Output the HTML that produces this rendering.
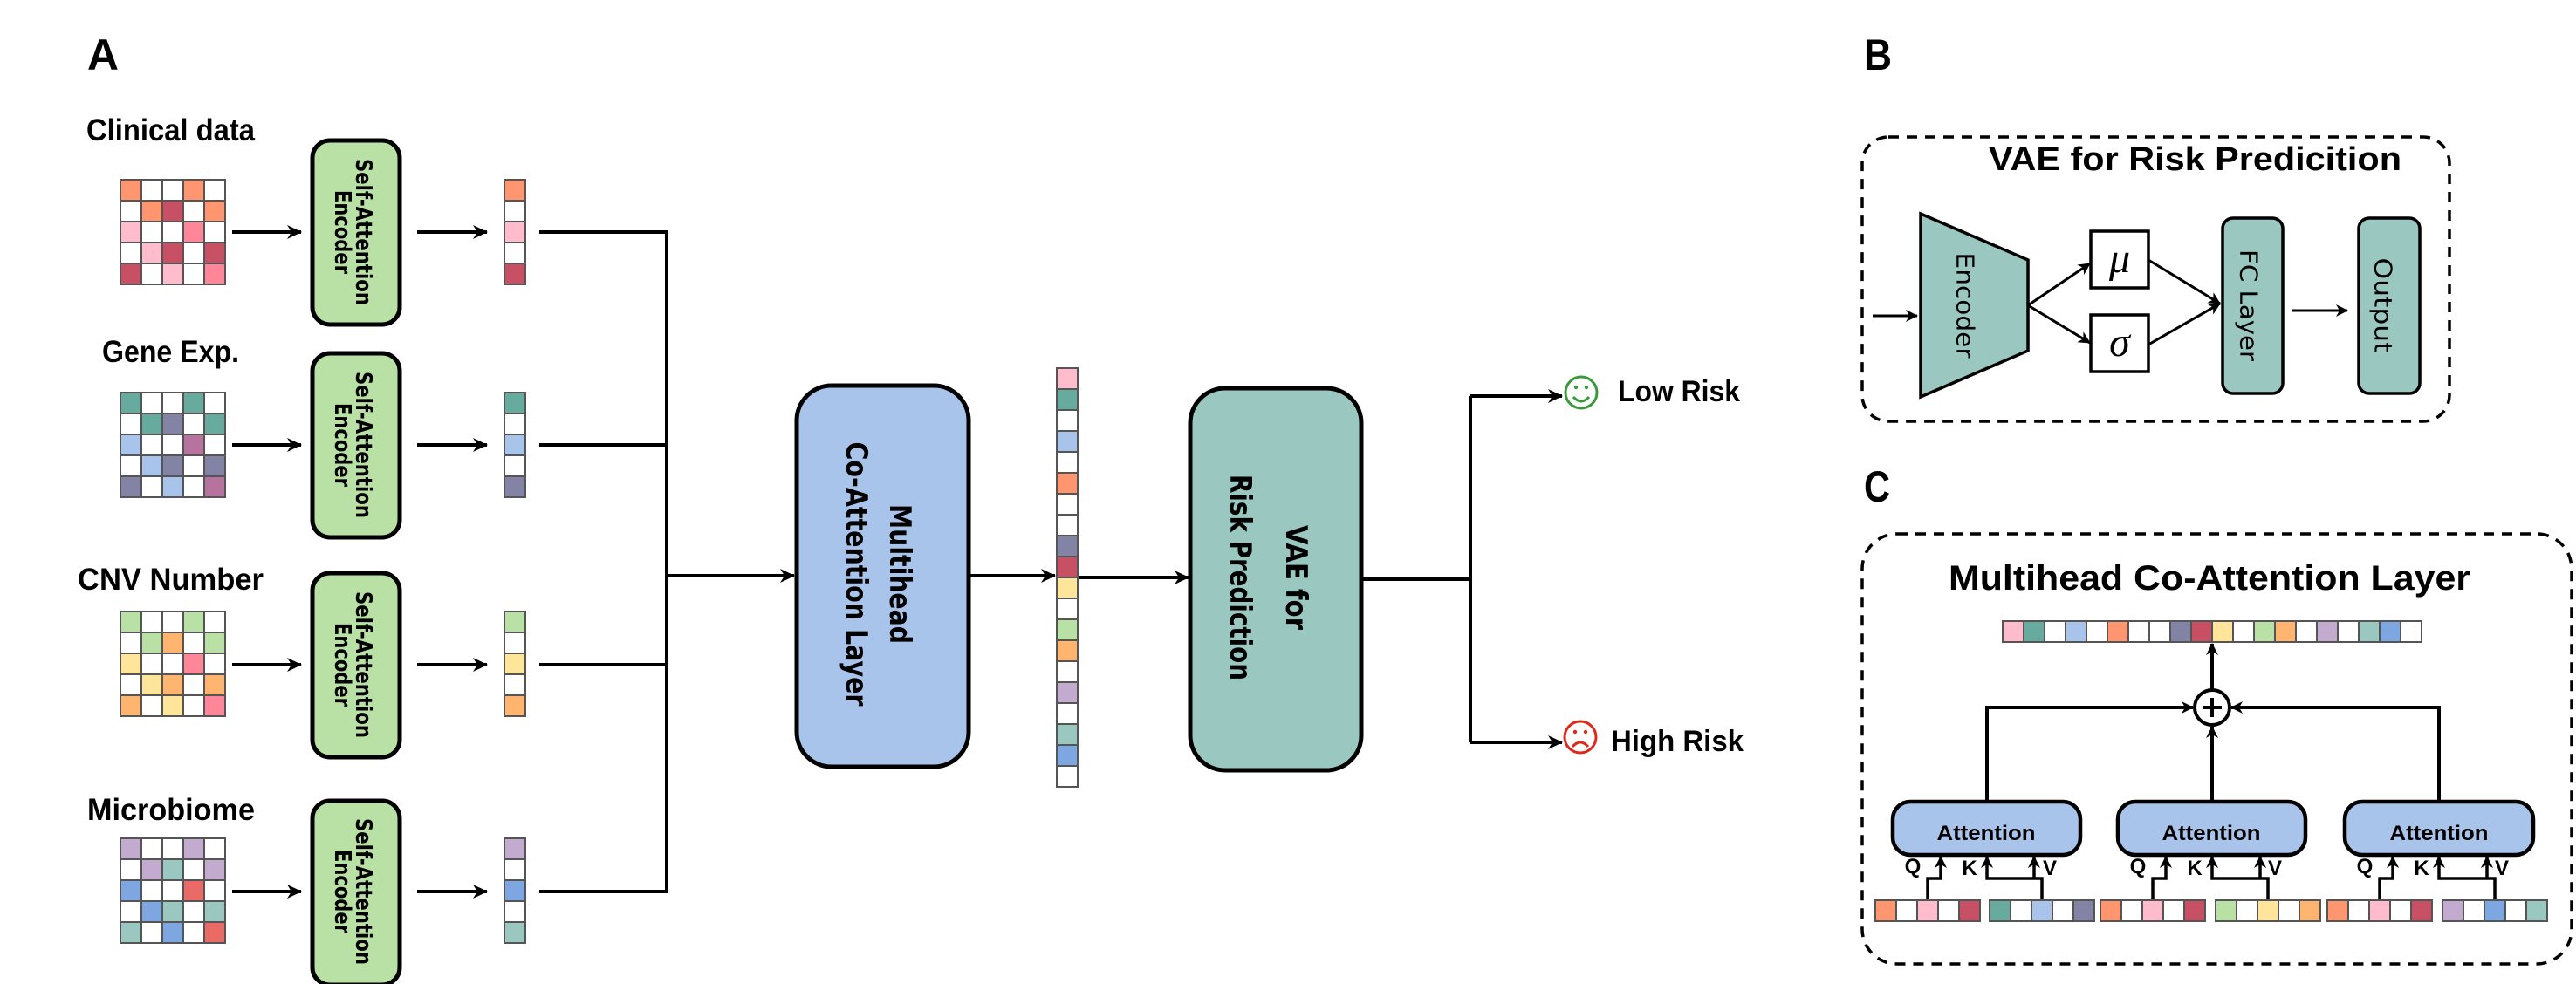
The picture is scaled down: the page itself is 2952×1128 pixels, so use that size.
<!DOCTYPE html>
<html><head><meta charset="utf-8"><style>html,body{margin:0;padding:0;background:#fff}svg{display:block}</style></head>
<body>
<svg width="2952" height="1128" viewBox="0 0 2952 1128" xmlns="http://www.w3.org/2000/svg">
<defs>
<pattern id="gp" width="24" height="24" patternUnits="userSpaceOnUse"><rect x="0" y="0" width="24" height="24" fill="none" stroke="#555" stroke-width="2"/></pattern>
<marker id="ar" markerUnits="userSpaceOnUse" markerWidth="20" markerHeight="16" refX="16" refY="8" orient="auto"><path d="M0,0 L17,8 L0,16 L5,8 z" fill="#000"/></marker>
<marker id="as" markerUnits="userSpaceOnUse" markerWidth="16" markerHeight="14" refX="13" refY="7" orient="auto"><path d="M0,0 L14,7 L0,14 L4,7 z" fill="#000"/></marker>
</defs>
<rect width="2952" height="1128" fill="#fff"/>

<g font-family="Liberation Sans, sans-serif" font-weight="bold" fill="#000">
<text x="100" y="80" font-size="50" textLength="36" lengthAdjust="spacingAndGlyphs">A</text>
<text x="2136" y="80" font-size="50" textLength="32" lengthAdjust="spacingAndGlyphs">B</text>
<text x="2136" y="575" font-size="50" textLength="30" lengthAdjust="spacingAndGlyphs">C</text>
<text x="99" y="161" font-size="35" textLength="193" lengthAdjust="spacingAndGlyphs">Clinical data</text>
<text x="117" y="415" font-size="35" textLength="157" lengthAdjust="spacingAndGlyphs">Gene Exp.</text>
<text x="89" y="676" font-size="35" textLength="213" lengthAdjust="spacingAndGlyphs">CNV Number</text>
<text x="100" y="940" font-size="35" textLength="192" lengthAdjust="spacingAndGlyphs">Microbiome</text>
<text x="1854" y="460" font-size="34" textLength="140" lengthAdjust="spacingAndGlyphs">Low Risk</text>
<text x="1846" y="861" font-size="34" textLength="152" lengthAdjust="spacingAndGlyphs">High Risk</text>
<text x="2279" y="195" font-size="38" textLength="473" lengthAdjust="spacingAndGlyphs">VAE for Risk Predicition</text>
<text x="2233" y="676" font-size="40" textLength="598" lengthAdjust="spacingAndGlyphs">Multihead Co-Attention Layer</text>
</g>

<g transform="translate(138,206)">
<rect width="120" height="120" fill="#fff"/>
<rect x="0" y="0" width="24" height="24" fill="#FF9670"/><rect x="72" y="0" width="24" height="24" fill="#FF9670"/>
<rect x="24" y="24" width="24" height="24" fill="#FF9670"/><rect x="48" y="24" width="24" height="24" fill="#C75064"/><rect x="96" y="24" width="24" height="24" fill="#FF9670"/>
<rect x="0" y="48" width="24" height="24" fill="#FFBCCD"/><rect x="72" y="48" width="24" height="24" fill="#FF8599"/>
<rect x="24" y="72" width="24" height="24" fill="#FFBCCD"/><rect x="48" y="72" width="24" height="24" fill="#C75064"/><rect x="96" y="72" width="24" height="24" fill="#C75064"/>
<rect x="0" y="96" width="24" height="24" fill="#C75064"/><rect x="48" y="96" width="24" height="24" fill="#FFBCCD"/><rect x="96" y="96" width="24" height="24" fill="#FF8599"/>
<rect width="120" height="120" fill="url(#gp)"/><rect width="120" height="120" fill="none" stroke="#555" stroke-width="2"/>
</g>
<g transform="translate(138,450)">
<rect width="120" height="120" fill="#fff"/>
<rect x="0" y="0" width="24" height="24" fill="#67AB9F"/><rect x="72" y="0" width="24" height="24" fill="#67AB9F"/>
<rect x="24" y="24" width="24" height="24" fill="#67AB9F"/><rect x="48" y="24" width="24" height="24" fill="#8383A5"/><rect x="96" y="24" width="24" height="24" fill="#67AB9F"/>
<rect x="0" y="48" width="24" height="24" fill="#A9C4EB"/><rect x="72" y="48" width="24" height="24" fill="#B5739D"/>
<rect x="24" y="72" width="24" height="24" fill="#A9C4EB"/><rect x="48" y="72" width="24" height="24" fill="#8383A5"/><rect x="96" y="72" width="24" height="24" fill="#8383A5"/>
<rect x="0" y="96" width="24" height="24" fill="#8383A5"/><rect x="48" y="96" width="24" height="24" fill="#A9C4EB"/><rect x="96" y="96" width="24" height="24" fill="#B5739D"/>
<rect width="120" height="120" fill="url(#gp)"/><rect width="120" height="120" fill="none" stroke="#555" stroke-width="2"/>
</g>
<g transform="translate(138,701)">
<rect width="120" height="120" fill="#fff"/>
<rect x="0" y="0" width="24" height="24" fill="#B9E0A5"/><rect x="72" y="0" width="24" height="24" fill="#B9E0A5"/>
<rect x="24" y="24" width="24" height="24" fill="#B9E0A5"/><rect x="48" y="24" width="24" height="24" fill="#FFB570"/><rect x="96" y="24" width="24" height="24" fill="#B9E0A5"/>
<rect x="0" y="48" width="24" height="24" fill="#FFE599"/><rect x="72" y="48" width="24" height="24" fill="#FF8599"/>
<rect x="24" y="72" width="24" height="24" fill="#FFE599"/><rect x="48" y="72" width="24" height="24" fill="#FFB570"/><rect x="96" y="72" width="24" height="24" fill="#FFB570"/>
<rect x="0" y="96" width="24" height="24" fill="#FFB570"/><rect x="48" y="96" width="24" height="24" fill="#FFE599"/><rect x="96" y="96" width="24" height="24" fill="#FF8599"/>
<rect width="120" height="120" fill="url(#gp)"/><rect width="120" height="120" fill="none" stroke="#555" stroke-width="2"/>
</g>
<g transform="translate(138,961)">
<rect width="120" height="120" fill="#fff"/>
<rect x="0" y="0" width="24" height="24" fill="#C3ABD0"/><rect x="72" y="0" width="24" height="24" fill="#C3ABD0"/>
<rect x="24" y="24" width="24" height="24" fill="#C3ABD0"/><rect x="48" y="24" width="24" height="24" fill="#9AC7BF"/><rect x="96" y="24" width="24" height="24" fill="#C3ABD0"/>
<rect x="0" y="48" width="24" height="24" fill="#7EA6E0"/><rect x="72" y="48" width="24" height="24" fill="#EA6B66"/>
<rect x="24" y="72" width="24" height="24" fill="#7EA6E0"/><rect x="48" y="72" width="24" height="24" fill="#9AC7BF"/><rect x="96" y="72" width="24" height="24" fill="#9AC7BF"/>
<rect x="0" y="96" width="24" height="24" fill="#9AC7BF"/><rect x="48" y="96" width="24" height="24" fill="#7EA6E0"/><rect x="96" y="96" width="24" height="24" fill="#EA6B66"/>
<rect width="120" height="120" fill="url(#gp)"/><rect width="120" height="120" fill="none" stroke="#555" stroke-width="2"/>
</g>

<g transform="translate(578,206)"><rect width="24" height="120" fill="#fff"/><rect y="0" width="24" height="24" fill="#FF9670"/><rect y="48" width="24" height="24" fill="#FFBCCD"/><rect y="96" width="24" height="24" fill="#C75064"/><rect width="24" height="120" fill="url(#gp)"/><rect width="24" height="120" fill="none" stroke="#555" stroke-width="2"/></g>
<g transform="translate(578,450)"><rect width="24" height="120" fill="#fff"/><rect y="0" width="24" height="24" fill="#67AB9F"/><rect y="48" width="24" height="24" fill="#A9C4EB"/><rect y="96" width="24" height="24" fill="#8383A5"/><rect width="24" height="120" fill="url(#gp)"/><rect width="24" height="120" fill="none" stroke="#555" stroke-width="2"/></g>
<g transform="translate(578,701)"><rect width="24" height="120" fill="#fff"/><rect y="0" width="24" height="24" fill="#B9E0A5"/><rect y="48" width="24" height="24" fill="#FFE599"/><rect y="96" width="24" height="24" fill="#FFB570"/><rect width="24" height="120" fill="url(#gp)"/><rect width="24" height="120" fill="none" stroke="#555" stroke-width="2"/></g>
<g transform="translate(578,961)"><rect width="24" height="120" fill="#fff"/><rect y="0" width="24" height="24" fill="#C3ABD0"/><rect y="48" width="24" height="24" fill="#7EA6E0"/><rect y="96" width="24" height="24" fill="#9AC7BF"/><rect width="24" height="120" fill="url(#gp)"/><rect width="24" height="120" fill="none" stroke="#555" stroke-width="2"/></g>

<g stroke="#000" stroke-width="4" fill="none">
<line x1="266" y1="266" x2="345" y2="266" marker-end="url(#ar)"/>
<line x1="478" y1="266" x2="558" y2="266" marker-end="url(#ar)"/>
<line x1="266" y1="510" x2="345" y2="510" marker-end="url(#ar)"/>
<line x1="478" y1="510" x2="558" y2="510" marker-end="url(#ar)"/>
<line x1="266" y1="762" x2="345" y2="762" marker-end="url(#ar)"/>
<line x1="478" y1="762" x2="558" y2="762" marker-end="url(#ar)"/>
<line x1="266" y1="1022" x2="345" y2="1022" marker-end="url(#ar)"/>
<line x1="478" y1="1022" x2="558" y2="1022" marker-end="url(#ar)"/>
<polyline points="618,266 764,266 764,1022 618,1022"/>
<line x1="618" y1="510" x2="764" y2="510"/>
<line x1="618" y1="762" x2="764" y2="762"/>
<line x1="764" y1="660" x2="910" y2="660" marker-end="url(#ar)"/>
<line x1="1110" y1="660" x2="1209" y2="660" marker-end="url(#ar)"/>
<line x1="1234" y1="662" x2="1362" y2="662" marker-end="url(#ar)"/>
<polyline points="1560,664 1685,664"/>
<polyline points="1685,454 1685,851"/>
<line x1="1685" y1="454" x2="1790" y2="454" marker-end="url(#ar)"/>
<line x1="1685" y1="851" x2="1790" y2="851" marker-end="url(#ar)"/>
</g>

<g fill="#B9E0A5" stroke="#000" stroke-width="5">
<rect x="358" y="161" width="100" height="211" rx="20"/>
<rect x="358" y="405" width="100" height="211" rx="20"/>
<rect x="358" y="657" width="100" height="211" rx="20"/>
<rect x="358" y="918" width="100" height="211" rx="20"/>
</g>
<g font-family="DejaVu Sans, sans-serif" font-weight="bold" font-size="26" text-anchor="middle" dominant-baseline="central" fill="#000">
<text transform="translate(416,266) rotate(90)" textLength="168" lengthAdjust="spacingAndGlyphs">Self-Attention</text>
<text transform="translate(392,266) rotate(90)" textLength="96" lengthAdjust="spacingAndGlyphs">Encoder</text>
<text transform="translate(416,510) rotate(90)" textLength="168" lengthAdjust="spacingAndGlyphs">Self-Attention</text>
<text transform="translate(392,510) rotate(90)" textLength="96" lengthAdjust="spacingAndGlyphs">Encoder</text>
<text transform="translate(416,762) rotate(90)" textLength="168" lengthAdjust="spacingAndGlyphs">Self-Attention</text>
<text transform="translate(392,762) rotate(90)" textLength="96" lengthAdjust="spacingAndGlyphs">Encoder</text>
<text transform="translate(416,1022) rotate(90)" textLength="168" lengthAdjust="spacingAndGlyphs">Self-Attention</text>
<text transform="translate(392,1022) rotate(90)" textLength="96" lengthAdjust="spacingAndGlyphs">Encoder</text>
</g>

<rect x="913" y="442" width="197" height="437" rx="40" fill="#A9C4EB" stroke="#000" stroke-width="5"/>
<rect x="1364" y="445" width="196" height="438" rx="40" fill="#9AC7BF" stroke="#000" stroke-width="5"/>
<g font-family="DejaVu Sans, sans-serif" font-weight="bold" font-size="34" text-anchor="middle" dominant-baseline="central" fill="#000">
<text transform="translate(1031,658) rotate(90)" textLength="160" lengthAdjust="spacingAndGlyphs">Multihead</text>
<text transform="translate(981,658) rotate(90)" textLength="303" lengthAdjust="spacingAndGlyphs">Co-Attention Layer</text>
<text transform="translate(1485,662) rotate(90)" textLength="120" lengthAdjust="spacingAndGlyphs">VAE for</text>
<text transform="translate(1421,662) rotate(90)" textLength="236" lengthAdjust="spacingAndGlyphs">Risk Prediction</text>
</g>

<g transform="translate(1211,422)">
<rect width="24" height="480" fill="#fff"/>
<rect y="0" width="24" height="24" fill="#FFBCCD"/><rect y="24" width="24" height="24" fill="#67AB9F"/><rect y="72" width="24" height="24" fill="#A9C4EB"/><rect y="120" width="24" height="24" fill="#FF9670"/><rect y="192" width="24" height="24" fill="#8383A5"/><rect y="216" width="24" height="24" fill="#C75064"/><rect y="240" width="24" height="24" fill="#FFE599"/><rect y="288" width="24" height="24" fill="#B9E0A5"/><rect y="312" width="24" height="24" fill="#FFB570"/><rect y="360" width="24" height="24" fill="#C3ABD0"/><rect y="408" width="24" height="24" fill="#9AC7BF"/><rect y="432" width="24" height="24" fill="#7EA6E0"/>
<rect width="24" height="480" fill="url(#gp)"/><rect width="24" height="480" fill="none" stroke="#555" stroke-width="2"/>
</g>

<g fill="none" stroke-width="3">
<circle cx="1812" cy="450" r="18" stroke="#3A9A3A"/>
<path d="M1803,455 Q1812,465 1821,455" stroke="#3A9A3A"/>
<circle cx="1811" cy="845" r="18" stroke="#E0281A"/>
<path d="M1802,856 Q1811,846 1820,856" stroke="#E0281A"/>
</g>
<circle cx="1806" cy="444" r="2.2" fill="#3A9A3A"/><circle cx="1818" cy="444" r="2.2" fill="#3A9A3A"/>
<circle cx="1805" cy="839" r="2.2" fill="#E0281A"/><circle cx="1817" cy="839" r="2.2" fill="#E0281A"/>

<rect x="2134" y="157" width="673" height="326" rx="30" fill="none" stroke="#000" stroke-width="3.5" stroke-dasharray="12 9"/>
<g stroke="#000" stroke-width="3" fill="none">
<line x1="2146" y1="362" x2="2197" y2="362" marker-end="url(#as)"/>
<line x1="2324" y1="350" x2="2395" y2="302" marker-end="url(#as)"/>
<line x1="2324" y1="350" x2="2395" y2="393" marker-end="url(#as)"/>
<line x1="2462" y1="298" x2="2544" y2="348" marker-end="url(#as)"/>
<line x1="2462" y1="395" x2="2544" y2="348" marker-end="url(#as)"/>
<line x1="2626" y1="356" x2="2690" y2="356" marker-end="url(#as)"/>
</g>
<polygon points="2201,245 2324,298 2324,402 2201,455" fill="#9AC7BF" stroke="#000" stroke-width="3.5"/>
<rect x="2396" y="265" width="66" height="65" fill="#fff" stroke="#000" stroke-width="3.5"/>
<rect x="2396" y="361" width="66" height="65" fill="#fff" stroke="#000" stroke-width="3.5"/>
<text x="2429" y="312" font-family="Liberation Serif, serif" font-style="italic" font-size="48" text-anchor="middle">μ</text>
<text x="2429" y="408" font-family="Liberation Serif, serif" font-style="italic" font-size="48" text-anchor="middle">σ</text>
<rect x="2547" y="250" width="69" height="201" rx="12" fill="#9AC7BF" stroke="#000" stroke-width="3.5"/>
<rect x="2703" y="250" width="70" height="201" rx="12" fill="#9AC7BF" stroke="#000" stroke-width="3.5"/>
<g font-family="DejaVu Sans, sans-serif" font-size="28" text-anchor="middle" dominant-baseline="central" fill="#000">
<text transform="translate(2252,350) rotate(90)" textLength="121" lengthAdjust="spacingAndGlyphs">Encoder</text>
<text transform="translate(2577,350) rotate(90)" textLength="128" lengthAdjust="spacingAndGlyphs">FC Layer</text>
<text transform="translate(2731,350) rotate(90)" textLength="109" lengthAdjust="spacingAndGlyphs">Output</text>
</g>

<rect x="2134" y="612" width="813" height="493" rx="40" fill="none" stroke="#000" stroke-width="3.5" stroke-dasharray="12 9"/>
<g transform="translate(2295,712)">
<rect width="480" height="24" fill="#fff"/>
<rect x="0" width="24" height="24" fill="#FFBCCD"/><rect x="24" width="24" height="24" fill="#67AB9F"/><rect x="72" width="24" height="24" fill="#A9C4EB"/><rect x="120" width="24" height="24" fill="#FF9670"/><rect x="192" width="24" height="24" fill="#8383A5"/><rect x="216" width="24" height="24" fill="#C75064"/><rect x="240" width="24" height="24" fill="#FFE599"/><rect x="288" width="24" height="24" fill="#B9E0A5"/><rect x="312" width="24" height="24" fill="#FFB570"/><rect x="360" width="24" height="24" fill="#C3ABD0"/><rect x="408" width="24" height="24" fill="#9AC7BF"/><rect x="432" width="24" height="24" fill="#7EA6E0"/>
<rect width="480" height="24" fill="url(#gp)"/><rect width="480" height="24" fill="none" stroke="#555" stroke-width="2"/>
</g>
<g stroke="#000" stroke-width="4" fill="none">
<line x1="2535" y1="790" x2="2535" y2="738" marker-end="url(#as)"/>
<polyline points="2277,918 2277,811 2513,811" marker-end="url(#as)"/>
<polyline points="2795,918 2795,811 2557,811" marker-end="url(#as)"/>
<line x1="2535" y1="918" x2="2535" y2="833" marker-end="url(#as)"/>
</g>
<circle cx="2535" cy="811" r="20" fill="#fff" stroke="#000" stroke-width="4"/>
<path d="M2535,800 V822 M2524,811 H2546" stroke="#000" stroke-width="4"/>

<g>
<rect x="2169" y="919" width="215" height="61" rx="20" fill="#A9C4EB" stroke="#000" stroke-width="4.5"/>
<g stroke="#000" stroke-width="3.5" fill="none">
<polyline points="2209,1032 2209,1007 2224,1007 2224,982" marker-end="url(#as)"/>
<polyline points="2340,1032 2340,1007 2277,1007 2277,982" marker-end="url(#as)"/>
<polyline points="2331,1007 2331,982" marker-end="url(#as)"/>
</g>
<g transform="translate(2149,1032)"><rect width="120" height="24" fill="#fff"/><rect x="0" width="24" height="24" fill="#FF9670"/><rect x="48" width="24" height="24" fill="#FFBCCD"/><rect x="96" width="24" height="24" fill="#C75064"/><rect width="120" height="24" fill="url(#gp)"/><rect width="120" height="24" fill="none" stroke="#555" stroke-width="2"/></g>
<g transform="translate(2280,1032)"><rect width="120" height="24" fill="#fff"/><rect x="0" width="24" height="24" fill="#67AB9F"/><rect x="48" width="24" height="24" fill="#A9C4EB"/><rect x="96" width="24" height="24" fill="#8383A5"/><rect width="120" height="24" fill="url(#gp)"/><rect width="120" height="24" fill="none" stroke="#555" stroke-width="2"/></g>
</g>
<g>
<rect x="2427" y="919" width="215" height="61" rx="20" fill="#A9C4EB" stroke="#000" stroke-width="4.5"/>
<g stroke="#000" stroke-width="3.5" fill="none">
<polyline points="2467,1032 2467,1007 2482,1007 2482,982" marker-end="url(#as)"/>
<polyline points="2599,1032 2599,1007 2535,1007 2535,982" marker-end="url(#as)"/>
<polyline points="2590,1007 2590,982" marker-end="url(#as)"/>
</g>
<g transform="translate(2407,1032)"><rect width="120" height="24" fill="#fff"/><rect x="0" width="24" height="24" fill="#FF9670"/><rect x="48" width="24" height="24" fill="#FFBCCD"/><rect x="96" width="24" height="24" fill="#C75064"/><rect width="120" height="24" fill="url(#gp)"/><rect width="120" height="24" fill="none" stroke="#555" stroke-width="2"/></g>
<g transform="translate(2539,1032)"><rect width="120" height="24" fill="#fff"/><rect x="0" width="24" height="24" fill="#B9E0A5"/><rect x="48" width="24" height="24" fill="#FFE599"/><rect x="96" width="24" height="24" fill="#FFB570"/><rect width="120" height="24" fill="url(#gp)"/><rect width="120" height="24" fill="none" stroke="#555" stroke-width="2"/></g>
</g>
<g>
<rect x="2687" y="919" width="216" height="61" rx="20" fill="#A9C4EB" stroke="#000" stroke-width="4.5"/>
<g stroke="#000" stroke-width="3.5" fill="none">
<polyline points="2727,1032 2727,1007 2742,1007 2742,982" marker-end="url(#as)"/>
<polyline points="2859,1032 2859,1007 2795,1007 2795,982" marker-end="url(#as)"/>
<polyline points="2850,1007 2850,982" marker-end="url(#as)"/>
</g>
<g transform="translate(2667,1032)"><rect width="120" height="24" fill="#fff"/><rect x="0" width="24" height="24" fill="#FF9670"/><rect x="48" width="24" height="24" fill="#FFBCCD"/><rect x="96" width="24" height="24" fill="#C75064"/><rect width="120" height="24" fill="url(#gp)"/><rect width="120" height="24" fill="none" stroke="#555" stroke-width="2"/></g>
<g transform="translate(2799,1032)"><rect width="120" height="24" fill="#fff"/><rect x="0" width="24" height="24" fill="#C3ABD0"/><rect x="48" width="24" height="24" fill="#7EA6E0"/><rect x="96" width="24" height="24" fill="#9AC7BF"/><rect width="120" height="24" fill="url(#gp)"/><rect width="120" height="24" fill="none" stroke="#555" stroke-width="2"/></g>
</g>

<g font-family="Liberation Sans, sans-serif" font-weight="bold" fill="#000">
<text x="2276" y="963" font-size="24" text-anchor="middle" textLength="113" lengthAdjust="spacingAndGlyphs">Attention</text>
<text x="2534" y="963" font-size="24" text-anchor="middle" textLength="113" lengthAdjust="spacingAndGlyphs">Attention</text>
<text x="2795" y="963" font-size="24" text-anchor="middle" textLength="113" lengthAdjust="spacingAndGlyphs">Attention</text>
<g font-size="24" text-anchor="middle">
<text x="2192" y="1001">Q</text><text x="2257" y="1003">K</text><text x="2349" y="1003">V</text>
<text x="2450" y="1001">Q</text><text x="2515" y="1003">K</text><text x="2607" y="1003">V</text>
<text x="2710" y="1001">Q</text><text x="2775" y="1003">K</text><text x="2867" y="1003">V</text>
</g>
</g>
</svg>
</body></html>
